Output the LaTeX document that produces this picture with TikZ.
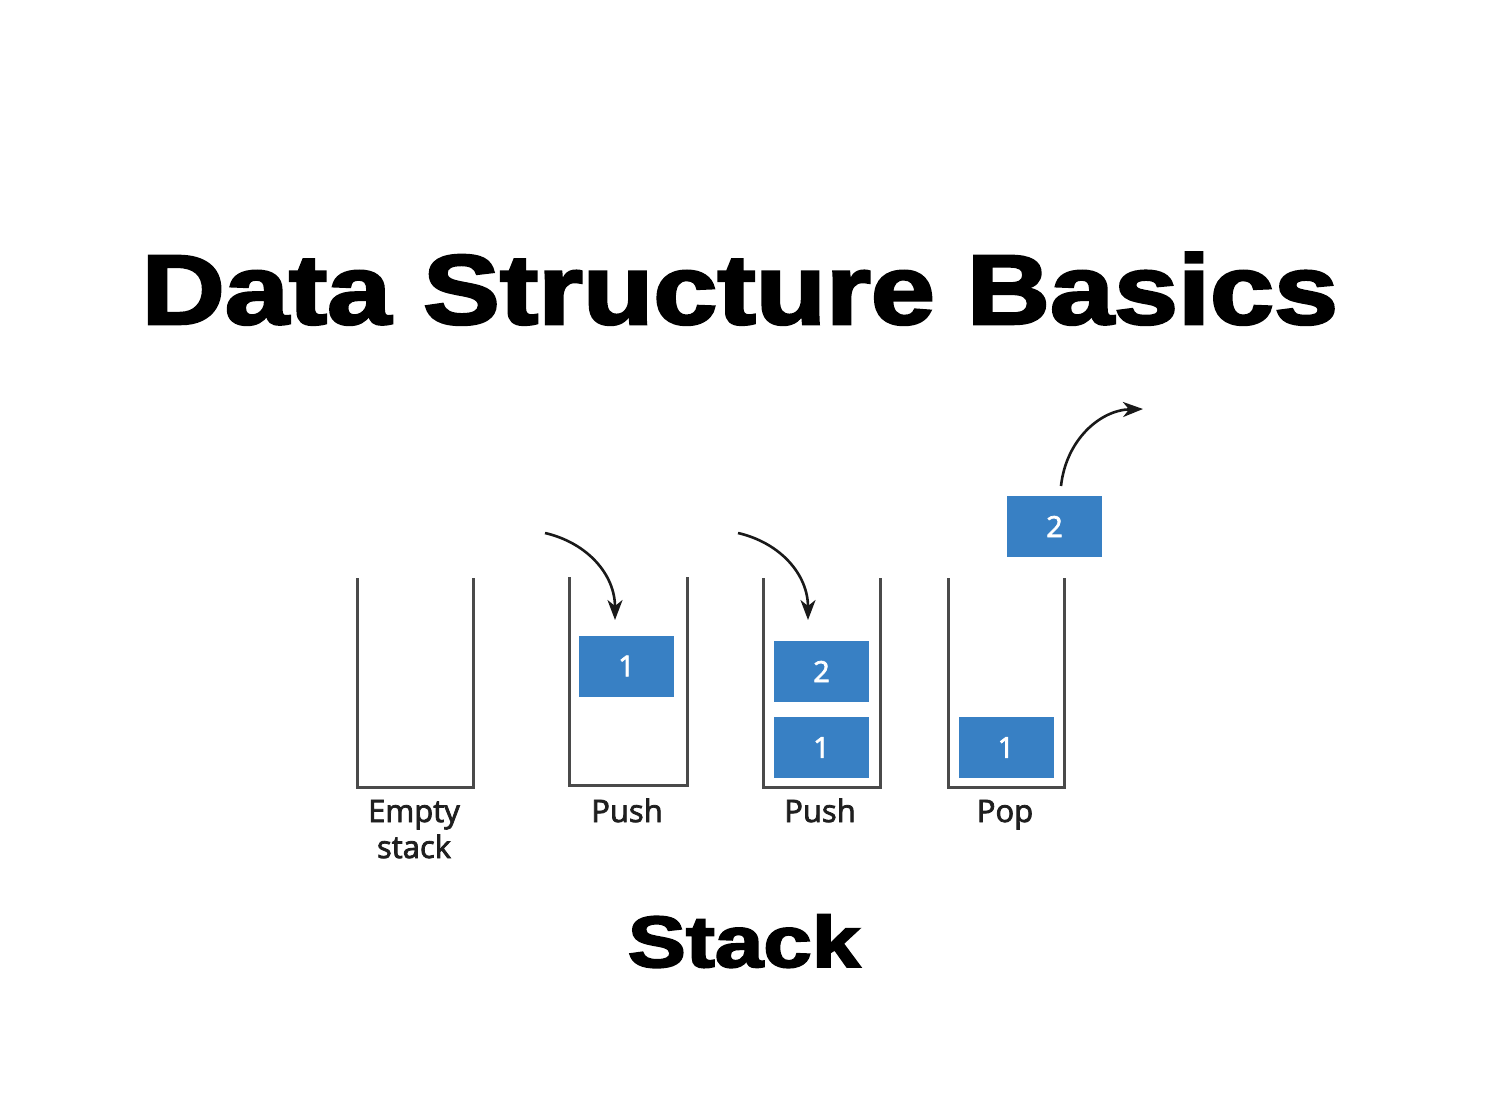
\documentclass[tikz,border=0pt]{standalone}
\usepackage{fontspec}
\setmainfont{Open Sans}
\newfontfamily\lblfont{Open Sans}[FakeBold=2.5]
\newfontfamily\titlefont{Liberation Sans Bold}[FakeBold=2.5]
\usetikzlibrary{arrows.meta}
\definecolor{blk}{HTML}{3880C4}
\definecolor{wall}{HTML}{4A4A4A}
\tikzset{
  wallline/.style={draw=wall, line width=3pt},
  block/.style={fill=blk, draw=none, minimum width=95pt, minimum height=61pt, inner sep=0pt, text=white, font=\lblfont\fontsize{29}{32}\selectfont},
  lbl/.style={anchor=base, font=\lblfont\fontsize{31}{36}\selectfont, inner sep=0pt, text=black!88},
  curvearrow/.style={draw=black!90, line width=2.6pt, -{Stealth[length=20pt,width=15pt,inset=6pt]}}
}
\begin{document}
\begin{tikzpicture}[x=1pt,y=-1pt]
\useasboundingbox[fill=white] (0,0) rectangle (1490,1117);
% title
\node[anchor=base, inner sep=0pt] (title) at (740,324) {\scalebox{1.163}[1]{\titlefont\fontsize{99}{110}\selectfont Data Structure Basics}};
% stacks
\draw[wallline] (357,578) -- (357,787) -- (473,787) -- (473,578);
\draw[wallline] (569,577) -- (569,785) -- (687,785) -- (687,577);
\draw[wallline] (763,578) -- (763,787) -- (880,787) -- (880,578);
\draw[wallline] (948,578) -- (948,787) -- (1064,787) -- (1064,578);
% blocks
\node[block] (p1a) at (626.5,666) {1};
\node[block] (p2b) at (821.5,671.5) {2};
\node[block] (p2a) at (821.5,747.5) {1};
\node[block] (popa) at (1006,747.5) {1};
\node[block] (popb) at (1054.5,526.5) {2};
% arrows
\coordinate (a1s) at (545,533);
\coordinate (a1e) at (615,620);
\coordinate (a2s) at (738,533);
\coordinate (a2e) at (808,620);
\coordinate (a3s) at (1061,486);
\coordinate (a3e) at (1143,409);
\draw[curvearrow] (a1s) .. controls (588,543) and (615,575) .. (a1e);
\draw[curvearrow] (a2s) .. controls (781,543) and (808,575) .. (a2e);
\draw[curvearrow] (a3s) .. controls (1066,440) and (1100,410) .. (a3e);
% labels
\node[lbl] (l1) at (414,822) {Empty};
\node[lbl] (l1b) at (414,858) {stack};
\node[lbl] (l2) at (627,822) {Push};
\node[lbl] (l3) at (820,822) {Push};
\node[lbl] (l4) at (1005,822) {Pop};
\node[anchor=base, inner sep=0pt] (stack) at (744,967) {\scalebox{1.2}[1]{\titlefont\fontsize{72.6}{80}\selectfont Stack}};
\end{tikzpicture}
\end{document}
